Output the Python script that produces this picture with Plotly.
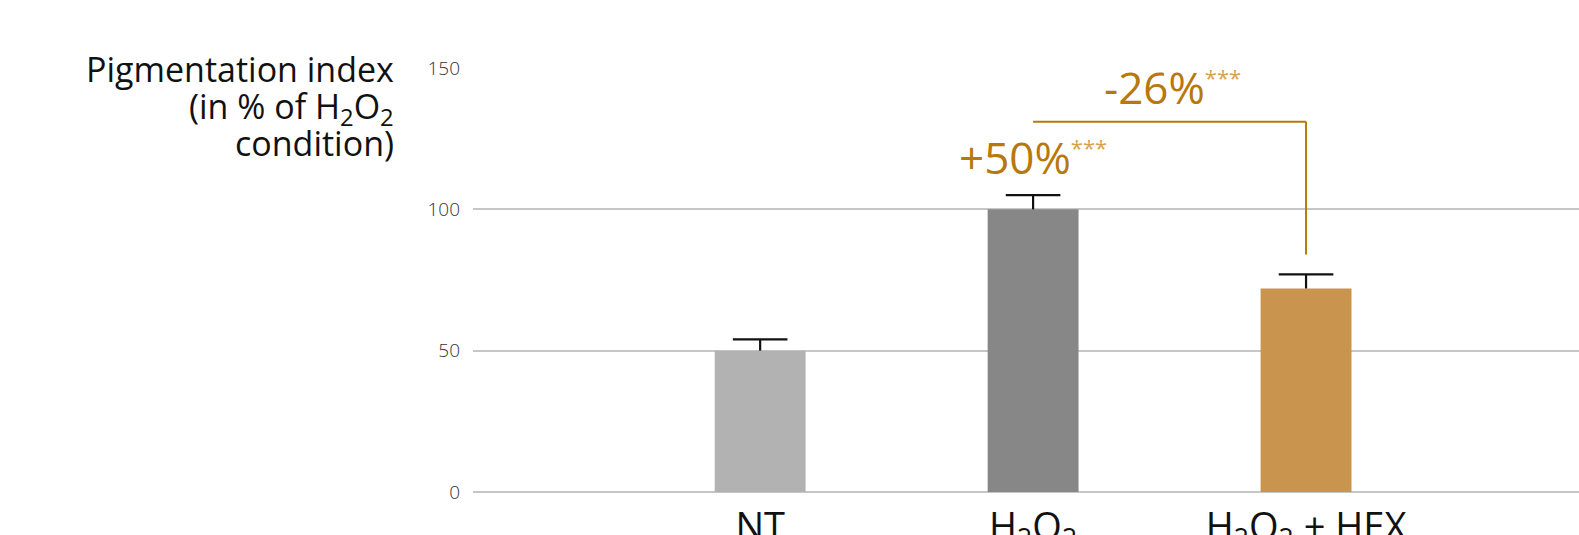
import plotly.graph_objects as go

# Pigmentation index per condition (in % of H2O2 condition)
categories = ["NT", "H<sub>2</sub>O<sub>2</sub>", "H<sub>2</sub>O<sub>2</sub> + HEX"]
values = [50, 100, 72]
errors = [4, 5, 5]
bar_colors = ["#B2B2B2", "#878787", "#C8944E"]

y_ticks = [0, 50, 100, 150]

# Significance annotations
increase_label = "+50%"
decrease_label = "-26%"
bracket_top = 131
bracket_bottom = 84

title_lines = ["Pigmentation index", "(in % of H<sub>2</sub>O<sub>2</sub>", "condition)"]

gold = "#B8780E"
star_color = "#D6A34C"
font_family = "'Open Sans', Lato, sans-serif"

x_pos = list(range(len(categories)))
bar_width = 0.333
cap_half = 0.1

fig = go.Figure()
fig.add_trace(go.Bar(
    x=x_pos,
    y=values,
    width=bar_width,
    marker=dict(color=bar_colors, line=dict(width=0)),
    hoverinfo="skip",
))

# Upper error whiskers: stem from the bar top plus a cap
ex, ey = [], []
for xi, v, e in zip(x_pos, values, errors):
    ex += [xi, xi, None, xi - cap_half, xi + cap_half, None]
    ey += [v, v + e, None, v + e, v + e, None]
fig.add_trace(go.Scatter(
    x=ex, y=ey, mode="lines",
    line=dict(color="#111111", width=2.2),
    hoverinfo="skip", connectgaps=False,
))

# Bracket from the H2O2 bar to the H2O2 + HEX bar
fig.add_shape(type="line", x0=x_pos[1], x1=x_pos[2], y0=bracket_top, y1=bracket_top,
              xref="x", yref="y", line=dict(color=gold, width=2))
fig.add_shape(type="line", x0=x_pos[2], x1=x_pos[2], y0=bracket_top, y1=bracket_bottom,
              xref="x", yref="y", line=dict(color=gold, width=2))

stars = f"<sup><span style='font-size:22px;color:{star_color}'>***</span></sup>"

fig.add_annotation(x=x_pos[1], y=values[1] + errors[1] + 2.3, xref="x", yref="y",
                   text=increase_label + stars, showarrow=False, yanchor="bottom",
                   font=dict(family=font_family, size=44, color=gold))
fig.add_annotation(x=(x_pos[1] + x_pos[2]) / 2 + 0.01, y=bracket_top + 1.0, xref="x", yref="y",
                   text=decrease_label + stars, showarrow=False, yanchor="bottom",
                   font=dict(family=font_family, size=44, color=gold))

# Axis title, right-aligned to the left of the tick labels
for i, line in enumerate(title_lines):
    fig.add_annotation(x=-0.0695, y=1.057 - i * 0.087, xref="paper", yref="paper",
                       text=line, showarrow=False, xanchor="right", yanchor="top",
                       align="right",
                       font=dict(family=font_family, size=34, color="#111111"))

fig.update_layout(
    width=1579,
    height=535,
    margin=dict(l=473, r=0, t=68, b=43),
    paper_bgcolor="white",
    plot_bgcolor="white",
    showlegend=False,
    xaxis=dict(
        range=[-1.052, 3.0],
        tickmode="array",
        tickvals=x_pos,
        ticktext=categories,
        showgrid=False,
        zeroline=False,
        showline=False,
        ticks="",
        automargin=False,
        tickfont=dict(family=font_family, size=38, color="#111111"),
        ticklabelstandoff=9,
    ),
    yaxis=dict(
        range=[0, 150],
        tickmode="array",
        tickvals=y_ticks,
        showgrid=True,
        gridcolor="#C6C6C6",
        gridwidth=1.5,
        zeroline=True,
        zerolinecolor="#C6C6C6",
        zerolinewidth=1.5,
        showline=False,
        ticks="",
        automargin=False,
        ticklabelstandoff=12,
        tickfont=dict(family=font_family, size=19, color="#333333", weight=300),
    ),
)

fig.write_html("out.html")
